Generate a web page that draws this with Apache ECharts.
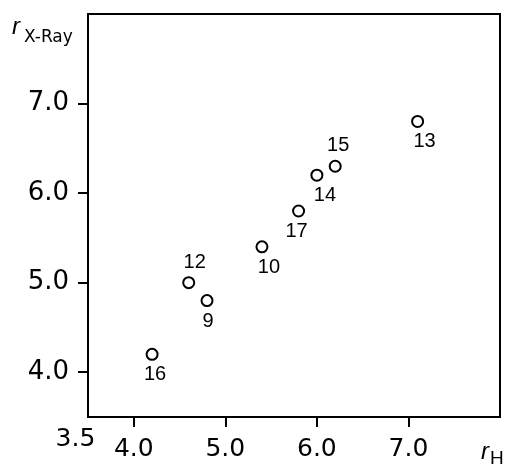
<!DOCTYPE html>
<html><head><meta charset="utf-8">
<script src="https://cdn.jsdelivr.net/npm/echarts@6/dist/echarts.min.js"></script>
<style>html,body{margin:0;padding:0;background:#fff}#c{width:505px;height:469px}</style>
</head><body><div id="c"></div>
<script>
// ---- data ----
const compoundIds = ['16', '12', '9', '10', '17', '14', '15', '13'];
const rH = [4.2, 4.6, 4.8, 5.4, 5.8, 6.0, 6.2, 7.1];
const rXRay = [4.2, 5.0, 4.8, 5.4, 5.8, 6.2, 6.3, 6.8];
const xTickValues = [4, 5, 6, 7];
const yTickValues = [4, 5, 6, 7];
const cornerTick = 3.5;
const yTitle = { main: 'r', sub: 'X-Ray' };
const xTitle = { main: 'r', sub: 'H' };

// ---- layout / style (not data) ----
const labelLayout = {
  '16': ['bottom', 3], '12': ['top', 6], '9': ['bottom', 1], '10': ['bottom', 7],
  '17': ['bottom', -2], '14': ['bottom', 8], '15': ['top', 3], '13': ['bottom', 7]
};
const tickFont = 'DejaVu Sans';
const textFont = 'Liberation Sans';

const points = compoundIds.map((id, i) => ({
  name: id,
  value: [rH[i], rXRay[i]],
  label: { position: labelLayout[id][0], offset: [labelLayout[id][1], 0] }
}));

function titleText(x, y, text, size, italic, family) {
  return {
    type: 'text', x: x, y: y,
    style: {
      text: text, fill: '#000', fontFamily: family || textFont, fontSize: size,
      fontStyle: italic ? 'italic' : 'normal', align: 'left', verticalAlign: 'top'
    }
  };
}

const chart = echarts.init(document.getElementById('c'), null, { renderer: 'canvas' });
chart.setOption({
  animation: false,
  backgroundColor: '#fff',
  grid: { left: 88, right: 5, top: 14, bottom: 52, show: true, borderColor: '#000', borderWidth: 2, containLabel: false },
  xAxis: {
    type: 'value', min: 3.5, max: 8,
    splitLine: { show: false },
    axisLine: { show: true, lineStyle: { color: '#000', width: 2 } },
    axisTick: { show: true, inside: false, length: 10, customValues: xTickValues, lineStyle: { color: '#000', width: 2 } },
    axisLabel: {
      customValues: [cornerTick].concat(xTickValues),
      margin: 10,
      color: '#000',
      formatter: v => (v === cornerTick ? '{c|' : '{n|') + v.toFixed(1) + '}',
      rich: {
        c: { fontFamily: tickFont, fontSize: 25, color: '#000', padding: [0, 25, 0, 0] },
        n: { fontFamily: tickFont, fontSize: 25, color: '#000', padding: [10, 0, 0, 0] }
      }
    }
  },
  yAxis: {
    type: 'value', min: 3.5, max: 8,
    splitLine: { show: false },
    axisLine: { show: true, lineStyle: { color: '#000', width: 2 } },
    axisTick: { show: true, inside: false, length: 10, customValues: yTickValues, lineStyle: { color: '#000', width: 2 } },
    axisLabel: {
      customValues: yTickValues, margin: 19, color: '#000',
      fontFamily: tickFont, fontSize: 26,
      formatter: v => v.toFixed(1)
    }
  },
  series: [{
    type: 'scatter',
    symbol: 'circle',
    symbolSize: 11,
    itemStyle: { color: '#fff', borderColor: '#000', borderWidth: 2, opacity: 1 },
    label: {
      show: true, distance: 4, formatter: '{b}', color: '#000',
      fontFamily: textFont, fontSize: 20
    },
    data: points
  }],
  graphic: [
    titleText(12, 15, yTitle.main, 24, true),
    titleText(24, 29, yTitle.sub, 17, false, tickFont),
    titleText(481, 440, xTitle.main, 24, true),
    titleText(490, 449, xTitle.sub, 19, false)
  ]
});
</script>
</body></html>
